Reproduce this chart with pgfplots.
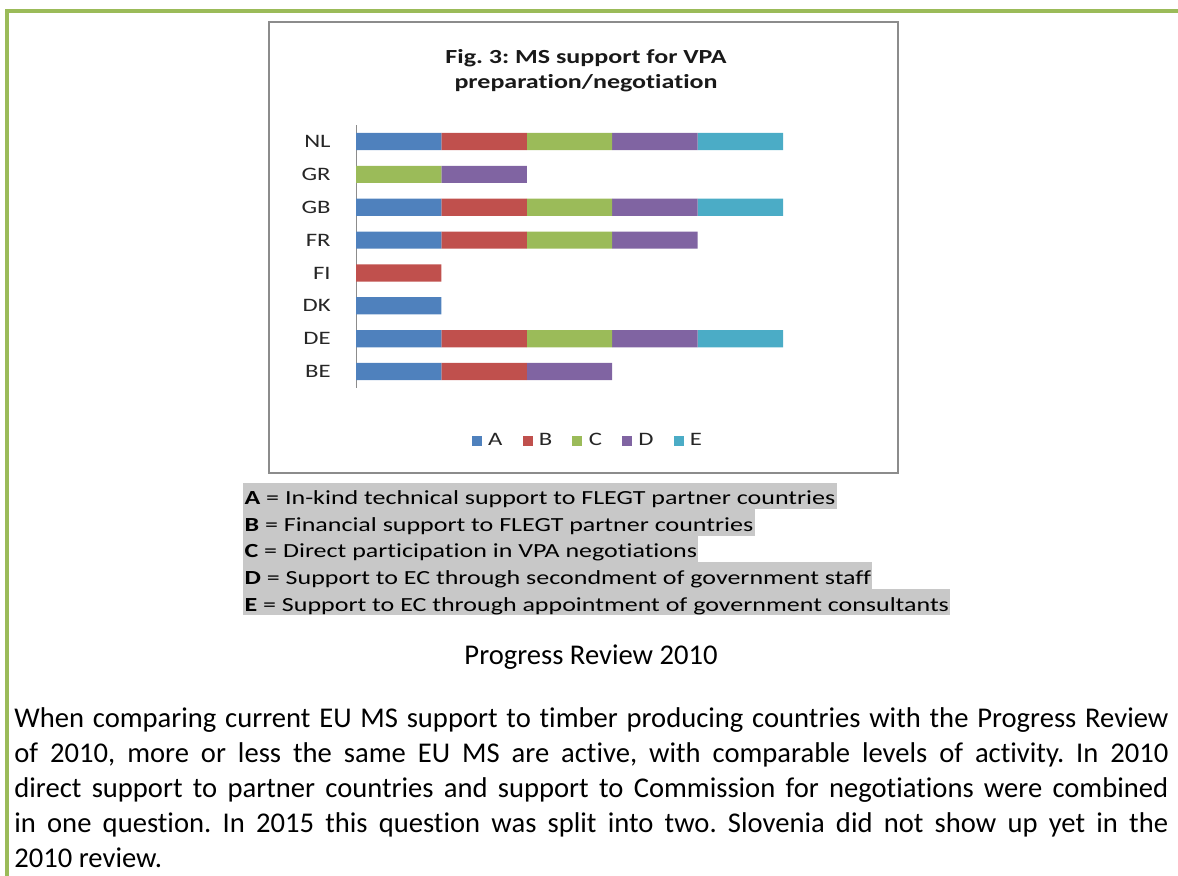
\documentclass[border=0pt]{standalone}
\usepackage{pgfplots}
\pgfplotsset{compat=1.18}
\usepackage{fontspec}
\setmainfont{Carlito}[Ligatures={NoCommon}]
\newfontfamily\chartfont{Carlito}[FakeStretch=1.3, Ligatures={NoCommon}]
\definecolor{cA}{RGB}{79,129,189}
\definecolor{cB}{RGB}{192,80,77}
\definecolor{cC}{RGB}{155,187,89}
\definecolor{cD}{RGB}{128,100,162}
\definecolor{cE}{RGB}{75,172,198}
\definecolor{frame}{RGB}{155,187,89}
\definecolor{hl}{RGB}{200,200,200}
\definecolor{boxgray}{RGB}{140,140,140}
\frenchspacing
\begin{document}
\begin{tikzpicture}
\path[use as bounding box] (0,0) rectangle (589pt,-438pt);
\draw[frame, line width=1.9pt, line join=miter] (3.5pt,-440pt) -- (3.5pt,-5.4pt) -- (590pt,-5.4pt);
\draw[boxgray, line width=0.8pt] (134.5pt,-11pt) rectangle (449pt,-236.5pt);
\node[anchor=base, inner sep=0pt, font=\chartfont\fontsize{10}{12}\selectfont\bfseries, text=black!90] at (293pt,-32pt) {Fig. 3: MS support for VPA};
\node[anchor=base, inner sep=0pt, font=\chartfont\fontsize{10}{12}\selectfont\bfseries, text=black!90] at (293pt,-44.5pt) {preparation/negotiation};

\begin{axis}[
  at={(178pt,-194pt)}, anchor=south west,
  x=42.7pt, y=16.43pt,
  xmin=0, xmax=5.6, ymin=-0.5, ymax=7.5,
  xbar stacked, bar width=8.6pt,
  axis x line=none, axis y line=left,
  y axis line style={-, draw=boxgray, line width=0.5pt},
  ytick={0,1,2,3,4,5,6,7}, yticklabels={BE,DE,DK,FI,FR,GB,GR,NL},
  major tick length=0pt,
  yticklabel style={font=\chartfont\fontsize{9.5}{11}\selectfont, text=black!85, inner sep=0pt, xshift=-12.5pt},
  legend columns=5,
  legend style={at={(0.487,-0.2016)}, anchor=center, draw=none, fill=none, inner sep=0pt,
    font=\chartfont\fontsize{9.5}{11}\selectfont, text=black!85,
    /tikz/every odd column/.append style={column sep=1.2pt},
    /tikz/every even column/.append style={column sep=8pt}},
  legend image code/.code={\fill[#1] (0pt,-2.5pt) rectangle (5pt,2.5pt);},
]
% A
\addplot[fill=cA, draw=none] coordinates {(1,0) (1,1) (1,2) (0,3) (1,4) (1,5) (0,6) (1,7)};
% B
\addplot[fill=cB, draw=none] coordinates {(1,0) (1,1) (0,2) (1,3) (1,4) (1,5) (0,6) (1,7)};
% C
\addplot[fill=cC, draw=none] coordinates {(0,0) (1,1) (0,2) (0,3) (1,4) (1,5) (1,6) (1,7)};
% D
\addplot[fill=cD, draw=none] coordinates {(1,0) (1,1) (0,2) (0,3) (1,4) (1,5) (1,6) (1,7)};
% E
\addplot[fill=cE, draw=none] coordinates {(0,0) (1,1) (0,2) (0,3) (0,4) (1,5) (0,6) (1,7)};
\legend{A,B,C,D,E}
\end{axis}

\tikzset{defline/.style={anchor=base west, fill=hl, inner xsep=0.6pt, inner ysep=0pt, text height=11pt, text depth=2.25pt, font=\chartfont\fontsize{10}{12}\selectfont}}
\node[defline] at (121.5pt,-252.5pt) {\textbf{A} = In-kind technical support to FLEGT partner countries};
\node[defline] at (121.5pt,-265.75pt) {\textbf{B} = Financial support to FLEGT partner countries};
\node[defline] at (121.5pt,-279pt) {\textbf{C} = Direct participation in VPA negotiations};
\node[defline] at (121.5pt,-292.25pt) {\textbf{D} = Support to EC through secondment of government staff};
\node[defline] at (121.5pt,-305.5pt) {\textbf{E} = Support to EC through appointment of government consultants};

\node[anchor=base, inner sep=0pt, font=\fontsize{14.3}{17}\selectfont] at (295.5pt,-332.5pt) {Progress Review 2010};

\tikzset{para/.style={anchor=base west, inner sep=0pt, font=\fontsize{14.3}{17}\selectfont}}
\node[para] at (7pt,-363.5pt) {\hbox to 577pt{When comparing current EU MS support to timber producing countries with the Progress Review}};
\node[para] at (7pt,-381pt) {\hbox to 577pt{of 2010, more or less the same EU MS are active, with comparable levels of activity. In 2010}};
\node[para] at (7pt,-398.5pt) {\hbox to 577pt{direct support to partner countries and support to Commission for negotiations were combined}};
\node[para] at (7pt,-416pt) {\hbox to 577pt{in one question. In 2015 this question was split into two. Slovenia did not show up yet in the}};
\node[para] at (7pt,-433.5pt) {2010 review.};
\end{tikzpicture}
\end{document}
